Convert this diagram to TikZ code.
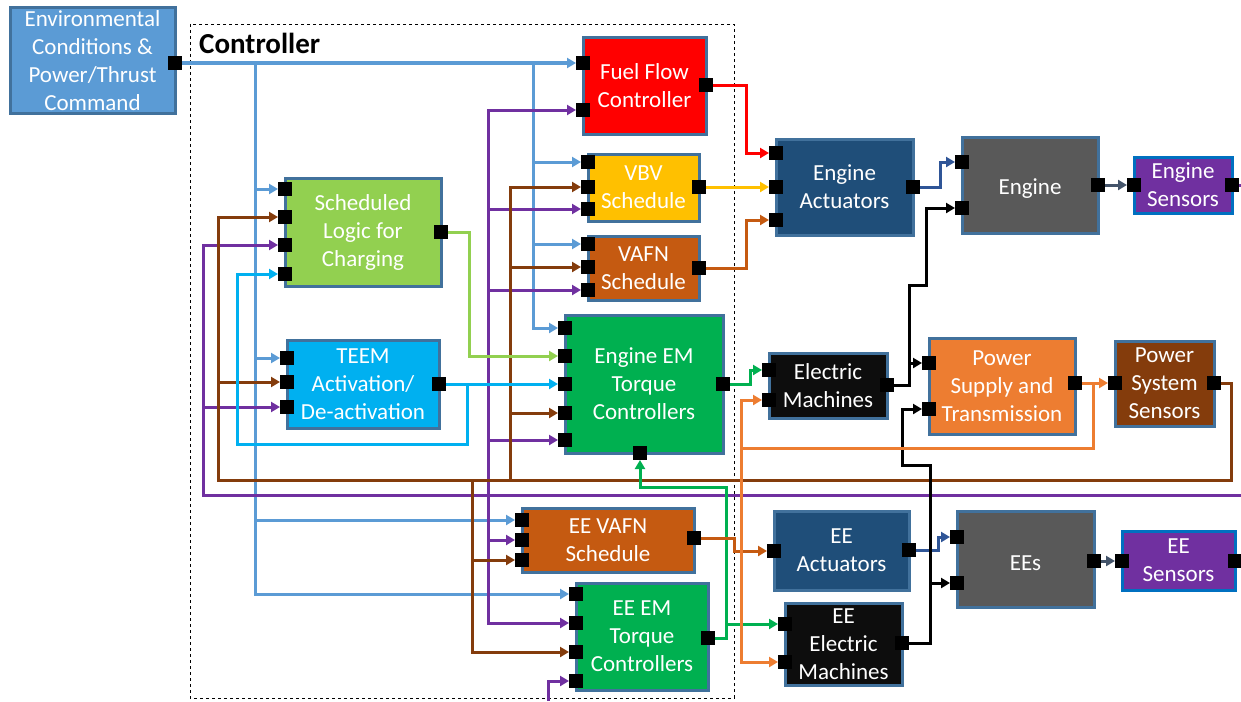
\documentclass[tikz,border=0pt]{standalone}
\usepackage{fontspec}
\setmainfont{Carlito}
\usetikzlibrary{arrows.meta}
\definecolor{lblue}{HTML}{5B9BD5}
\definecolor{boxedge}{HTML}{41719C}
\definecolor{ffred}{HTML}{FF0000}
\definecolor{vbvgold}{HTML}{FFC000}
\definecolor{rust}{HTML}{C55A11}
\definecolor{emgreen}{HTML}{00B050}
\definecolor{limeg}{HTML}{92D050}
\definecolor{cyanb}{HTML}{00B0F0}
\definecolor{actnavy}{HTML}{1F4E79}
\definecolor{engrey}{HTML}{595959}
\definecolor{sensp}{HTML}{7030A0}
\definecolor{sensb}{HTML}{0070C0}
\definecolor{machblk}{HTML}{0D0D0D}
\definecolor{psorange}{HTML}{ED7D31}
\definecolor{brownfb}{HTML}{843C0C}
\definecolor{actblue}{HTML}{2F5597}
\definecolor{slate}{HTML}{44546A}
\begin{document}
\begin{tikzpicture}[x=1pt,y=-1pt,
  every node/.style={font=\fontsize{23}{28}\selectfont},
  blk/.style={draw=boxedge,line width=3pt,text=white,align=center,inner sep=0pt,outer sep=0pt,
    execute at begin node={\rule{0pt}{23pt}}},
  pt/.style={fill=black,minimum size=14pt,inner sep=0pt,outer sep=0pt},
  fl/.style={-{Triangle[length=9pt,width=10pt]},line width=3pt}]
\useasboundingbox (0,0) rectangle (1241,701);

% controller frame
\draw[dashed,line width=0.8pt] (190,24) rectangle (734,698);
\node[font=\fontsize{29}{34}\selectfont\bfseries,anchor=north west,inner sep=0pt] (ctl) at (199,33) {Controller};

% blocks
\node[blk,fill=lblue,minimum width=165pt,minimum height=105pt] (env) at (92.5,60.5) {Environmental\\Conditions \&\\Power/Thrust\\Command};
\node[blk,fill=ffred,minimum width=123pt,minimum height=96pt] (ff) at (644.5,86) {Fuel Flow\\Controller};
\node[blk,fill=vbvgold,minimum width=111pt,minimum height=67pt] (vbv) at (643.5,187.5) {VBV\\Schedule};
\node[blk,fill=rust,minimum width=111pt,minimum height=64pt] (vafn) at (643.5,268) {VAFN\\Schedule};
\node[blk,fill=emgreen,minimum width=158pt,minimum height=138pt] (eem) at (644,384) {Engine EM\\Torque\\Controllers};
\node[blk,fill=limeg,minimum width=156pt,minimum height=108pt] (slc) at (363,232) {Scheduled\\Logic for\\Charging};
\node[blk,fill=cyanb,minimum width=152pt,minimum height=88pt] (teem) at (363,384) {TEEM\\Activation/\\De-activation};
\node[blk,fill=rust,minimum width=172pt,minimum height=64pt] (eevafn) at (608,540) {EE VAFN\\Schedule};
\node[blk,fill=emgreen,minimum width=132pt,minimum height=107pt] (eeem) at (642,636.5) {EE EM\\Torque\\Controllers};
\node[blk,fill=actnavy,minimum width=137pt,minimum height=96pt] (act) at (844.5,187) {Engine\\Actuators};
\node[blk,fill=engrey,minimum width=136pt,minimum height=96pt] (eng) at (1030,185) {Engine};
\node[blk,fill=sensp,draw=sensb,minimum width=98pt,minimum height=56pt] (engs) at (1183,185) {Engine\\Sensors};
\node[blk,fill=machblk,minimum width=118pt,minimum height=65pt] (em) at (828,385.5) {Electric\\Machines};
\node[blk,fill=psorange,minimum width=146pt,minimum height=96pt] (ps) at (1002,386) {Power\\Supply and\\Transmission};
\node[blk,fill=brownfb,minimum width=99pt,minimum height=85pt] (pss) at (1164.5,383.5) {Power\\System\\Sensors};
\node[blk,fill=actnavy,minimum width=135pt,minimum height=79pt] (eeact) at (841.5,550.5) {EE\\Actuators};
\node[blk,fill=engrey,minimum width=137pt,minimum height=96pt] (ees) at (1025.5,559) {EEs};
\node[blk,fill=sensp,draw=sensb,minimum width=113pt,minimum height=59pt] (eesn) at (1178.5,560.5) {EE\\Sensors};
\node[blk,fill=machblk,minimum width=117pt,minimum height=82pt] (eeel) at (843.5,644) {EE\\Electric\\Machines};

% ports
\node[pt] (env-o) at (env.east |- 0,63) {};
\node[pt] (ff-i1) at (ff.west |- 0,63) {}; \node[pt] (ff-i2) at (ff.west |- 0,110) {}; \node[pt] (ff-o) at (ff.east |- 0,85) {};
\node[pt] (vbv-i1) at (vbv.west |- 0,162) {}; \node[pt] (vbv-i2) at (vbv.west |- 0,187) {}; \node[pt] (vbv-i3) at (vbv.west |- 0,209) {}; \node[pt] (vbv-o) at (vbv.east |- 0,187) {};
\node[pt] (vafn-i1) at (vafn.west |- 0,244) {}; \node[pt] (vafn-i2) at (vafn.west |- 0,267) {}; \node[pt] (vafn-i3) at (vafn.west |- 0,290) {}; \node[pt] (vafn-o) at (vafn.east |- 0,268) {};
\node[pt] (eem-i1) at (eem.west |- 0,328) {}; \node[pt] (eem-i2) at (eem.west |- 0,356) {}; \node[pt] (eem-i3) at (eem.west |- 0,384) {};
\node[pt] (eem-i4) at (eem.west |- 0,413) {}; \node[pt] (eem-i5) at (eem.west |- 0,440) {};
\node[pt] (eem-o) at (eem.east |- 0,384) {}; \node[pt] (eem-b) at (eem.south -| 640,0) {};
\node[pt] (slc-i1) at (slc.west |- 0,189) {}; \node[pt] (slc-i2) at (slc.west |- 0,217) {}; \node[pt] (slc-i3) at (slc.west |- 0,245) {}; \node[pt] (slc-i4) at (slc.west |- 0,274) {};
\node[pt] (slc-o) at (slc.east |- 0,232) {};
\node[pt] (teem-i1) at (teem.west |- 0,358) {}; \node[pt] (teem-i2) at (teem.west |- 0,382) {}; \node[pt] (teem-i3) at (teem.west |- 0,407) {}; \node[pt] (teem-o) at (teem.east |- 0,384) {};
\node[pt] (eevafn-i1) at (eevafn.west |- 0,520) {}; \node[pt] (eevafn-i2) at (eevafn.west |- 0,540) {}; \node[pt] (eevafn-i3) at (eevafn.west |- 0,560) {}; \node[pt] (eevafn-o) at (eevafn.east |- 0,538) {};
\node[pt] (eeem-i1) at (eeem.west |- 0,594) {}; \node[pt] (eeem-i2) at (eeem.west |- 0,623) {}; \node[pt] (eeem-i3) at (eeem.west |- 0,652) {}; \node[pt] (eeem-i4) at (eeem.west |- 0,681) {};
\node[pt] (eeem-o) at (eeem.east |- 0,638) {};
\node[pt] (act-i1) at (act.west |- 0,153) {}; \node[pt] (act-i2) at (act.west |- 0,187) {}; \node[pt] (act-i3) at (act.west |- 0,220) {}; \node[pt] (act-o) at (act.east |- 0,187) {};
\node[pt] (eng-i1) at (eng.west |- 0,162) {}; \node[pt] (eng-i2) at (eng.west |- 0,208) {}; \node[pt] (eng-o) at (eng.east |- 0,185) {};
\node[pt] (engs-i) at (engs.west |- 0,185) {}; \node[pt] (engs-o) at (engs.east |- 0,185) {};
\node[pt] (em-i1) at (em.west |- 0,370) {}; \node[pt] (em-i2) at (em.west |- 0,400) {}; \node[pt] (em-o) at (em.east |- 0,385) {};
\node[pt] (ps-i1) at (ps.west |- 0,363) {}; \node[pt] (ps-i2) at (ps.west |- 0,409) {}; \node[pt] (ps-o) at (ps.east |- 0,383) {};
\node[pt] (pss-i) at (pss.west |- 0,383) {}; \node[pt] (pss-o) at (pss.east |- 0,383) {};
\node[pt] (eeact-i) at (eeact.west |- 0,551) {}; \node[pt] (eeact-o) at (eeact.east |- 0,550) {};
\node[pt] (ees-i1) at (ees.west |- 0,537) {}; \node[pt] (ees-i2) at (ees.west |- 0,583) {}; \node[pt] (ees-o) at (ees.east |- 0,561) {};
\node[pt] (eesn-i) at (eesn.west |- 0,561) {}; \node[pt] (eesn-o) at (eesn.east |- 0,561) {};
\node[pt] (eeel-i1) at (eeel.west |- 0,624) {}; \node[pt] (eeel-i2) at (eeel.west |- 0,662) {}; \node[pt] (eeel-o) at (eeel.east |- 0,643) {};

% junctions and free ends
\coordinate (lb1) at (255,63); \coordinate (lb2) at (533,63);
\coordinate (es-out) at (1241,185); \coordinate (fb-in) at (1241,495); \coordinate (pp1) at (203,495); \coordinate (pp2) at (488,495);
\coordinate (eb-in) at (548,701); \coordinate (ees-out) at (1241,561);
\coordinate (bc) at (1231,480); \coordinate (br1) at (218,480); \coordinate (br2) at (510,480); \coordinate (br3) at (472,480);
\coordinate (cy1) at (467,384); \coordinate (cy2) at (237,444);
\coordinate (gn1) at (726,638); \coordinate (gn2) at (640,487);
\coordinate (bk1) at (909,385); \coordinate (bk2) at (926,285); \coordinate (bk3) at (930,643); \coordinate (bk4) at (902,465);
\coordinate (or1) at (1093,383); \coordinate (or2) at (741,448);

% commands
\draw[fl,lblue] (env-o) -- (ff-i1);
\draw[fl,lblue] (lb1) |- (slc-i1); \draw[fl,lblue] (lb1) |- (teem-i1); \draw[fl,lblue] (lb1) |- (eevafn-i1); \draw[fl,lblue] (lb1) |- (eeem-i1);
\draw[fl,lblue] (lb2) |- (vbv-i1); \draw[fl,lblue] (lb2) |- (vafn-i1); \draw[fl,lblue] (lb2) |- (eem-i1);

% engine sensor feedback
\draw[line width=3pt,sensp] (engs-o) -- (es-out);
\draw[fl,sensp] (fb-in) -- (pp1) |- (slc-i3); \draw[fl,sensp] (pp1) |- (teem-i3);
\draw[fl,sensp] (pp2) |- (ff-i2); \draw[fl,sensp] (pp2) |- (vbv-i3); \draw[fl,sensp] (pp2) |- (vafn-i3);
\draw[fl,sensp] (pp2) |- (eem-i5); \draw[fl,sensp] (pp2) |- (eevafn-i2); \draw[fl,sensp] (pp2) |- (eeem-i2);
\draw[line width=3pt,sensp] (eesn-o) -- (ees-out);
\draw[fl,sensp] (eb-in) |- (eeem-i4);

% power system feedback
\draw[fl,brownfb] (pss-o) -| (bc) -- (br1) |- (slc-i2); \draw[fl,brownfb] (br1) |- (teem-i2);
\draw[fl,brownfb] (br2) |- (vbv-i2); \draw[fl,brownfb] (br2) |- (vafn-i2); \draw[fl,brownfb] (br2) |- (eem-i4);
\draw[fl,brownfb] (br3) |- (eevafn-i3); \draw[fl,brownfb] (br3) |- (eeem-i3);

% controller internals
\draw[fl,cyanb] (teem-o) -- (eem-i3); \draw[fl,cyanb] (cy1) |- (cy2) |- (slc-i4);
\draw[fl,limeg] (slc-o) -- ++(28,0) |- (eem-i2);
\draw[fl,emgreen] (eem-o) -- ++(27,0) |- (em-i1);
\draw[fl,emgreen] (eeem-o) -- (gn1) |- (eeel-i1); \draw[fl,emgreen] (gn1) |- (gn2) -- (eem-b);

% actuation
\draw[fl,ffred] (ff-o) -- ++(40,0) |- (act-i1);
\draw[fl,vbvgold] (vbv-o) -- (act-i2);
\draw[fl,rust] (vafn-o) -- ++(47,0) |- (act-i3);
\draw[fl,rust] (eevafn-o) -- ++(40,0) |- (eeact-i);
\draw[fl,actblue] (act-o) -- ++(27,0) |- (eng-i1); \draw[fl,actblue] (eeact-o) -- ++(29,0) |- (ees-i1);
\draw[fl,slate] (eng-o) -- (engs-i); \draw[fl,slate] (ees-o) -- (eesn-i);

% machines and power
\draw[fl] (em-o) -- (bk1) |- (ps-i1); \draw[fl] (bk1) |- (bk2) |- (eng-i2);
\draw[fl] (eeel-o) -- (bk3) |- (ees-i2); \draw[fl] (bk3) |- (bk4) |- (ps-i2);
\draw[fl,psorange] (ps-o) -- (pss-i);
\draw[fl,psorange] (or1) |- (or2) |- (em-i2); \draw[fl,psorange] (or2) |- (eeel-i2);
\end{tikzpicture}
\end{document}
